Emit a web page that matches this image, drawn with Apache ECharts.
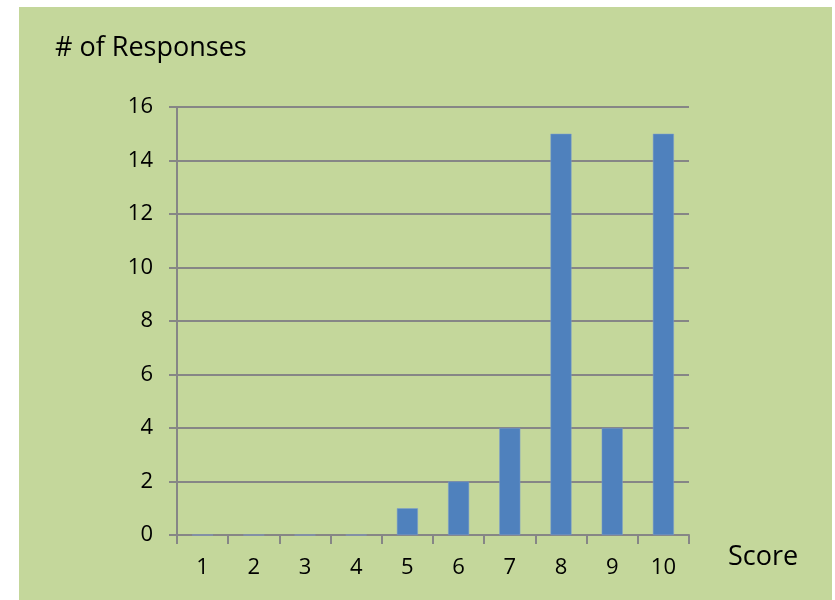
<!DOCTYPE html>
<html><head><meta charset="utf-8">
<script src="https://cdn.jsdelivr.net/npm/echarts@6/dist/echarts.min.js"></script>
<style>html,body{margin:0;padding:0;background:#fff}#c{width:835px;height:600px}</style>
</head><body><div id="c"></div>
<script>
const categories = ['1','2','3','4','5','6','7','8','9','10'];
const responses = [0,0,0,0,1,2,4,15,4,15];
const yTitle = '# of Responses';
const xTitle = 'Score';
const font = '"Open Sans", sans-serif';
const chart = echarts.init(document.getElementById('c'));
chart.setOption({
  backgroundColor: '#ffffff',
  animation: false,
  graphic: [
    {type:'rect', z:-10, shape:{x:19,y:7,width:813,height:593}, style:{fill:'#c4d79b'}},
    {type:'text', x:55, y:48, style:{text:yTitle, font:'27px '+font, fill:'#000', verticalAlign:'middle'}},
    {type:'text', x:728, y:557, style:{text:xTitle, font:'27px '+font, fill:'#000', verticalAlign:'middle'}}
  ],
  grid: {left:177, right:146, top:107, bottom:65},
  xAxis: {
    type:'category', data:categories,
    axisLine:{lineStyle:{color:'#868686', width:2}},
    axisTick:{show:true, length:9, lineStyle:{color:'#868686', width:2}},
    axisLabel:{color:'#000', fontSize:22, fontFamily:font, margin:22}
  },
  yAxis: {
    type:'value', min:0, max:16, interval:2,
    axisLine:{show:true, lineStyle:{color:'#868686', width:2}},
    axisTick:{show:true, length:8, lineStyle:{color:'#868686', width:2}},
    splitLine:{lineStyle:{color:'#868686', width:2}},
    axisLabel:{color:'#000', fontSize:22, fontFamily:font, margin:24}
  },
  series: [{
    type:'bar', data:responses, barWidth:21,
    itemStyle:{color:'#4f81bd', borderColor:'#7f9fcf', borderWidth:0.5}
  }]
});
</script></body></html>
